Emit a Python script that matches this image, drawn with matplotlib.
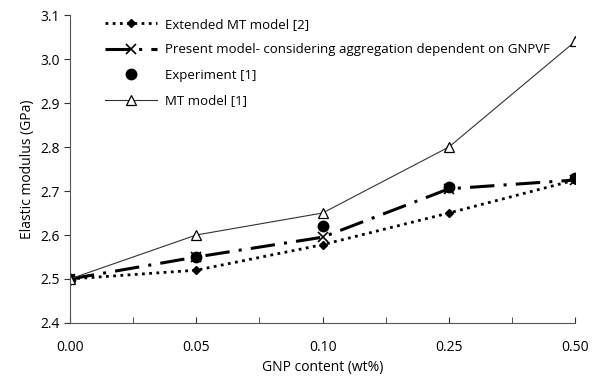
import matplotlib.pyplot as plt

# GNP content categories (equally spaced on the chart)
gnp_labels = ["0.00", "0.05", "0.10", "0.25", "0.50"]

extended_mt = [2.50, 2.52, 2.578, 2.65, 2.725]
present_model = [2.50, 2.55, 2.595, 2.705, 2.725]
experiment = [2.50, 2.55, 2.62, 2.71, 2.73]
mt_model = [2.50, 2.60, 2.65, 2.80, 3.04]

plt.rcParams['font.family'] = ['Open Sans', 'DejaVu Sans']

x = list(range(len(gnp_labels)))

fig = plt.figure(figsize=(5.93, 3.76), dpi=100)
ax = fig.add_axes([0.118, 0.141, 0.852, 0.819])

ax.plot(x, extended_mt, linestyle=(0, (1, 1.6)), color='black', linewidth=2,
        marker='D', markersize=4, label='Extended MT model [2]')
ax.plot(x, present_model, linestyle=(0, (8, 3, 1, 3)), color='black', linewidth=2.2,
        marker='x', markersize=7, markeredgewidth=1.2,
        label='Present model- considering aggregation dependent on GNPVF')
ax.plot(x, experiment, linestyle='none', color='black',
        marker='o', markersize=7.5, label='Experiment [1]')
ax.plot(x, mt_model, linestyle='-', color='#333333', linewidth=0.8,
        marker='^', markersize=6.5, markerfacecolor='white', markeredgecolor='black',
        markeredgewidth=0.9, label='MT model [1]')

ax.set_xlim(0, 4)
ax.set_ylim(2.4, 3.1)
ax.set_xticks(x)
ax.set_xticklabels(gnp_labels)
ax.set_xticks([0.5, 1.5, 2.5, 3.5], minor=True)
ax.set_yticks([2.4, 2.5, 2.6, 2.7, 2.8, 2.9, 3.0, 3.1])
ax.set_yticklabels(["2.4", "2.5", "2.6", "2.7", "2.8", "2.9", "3.0", "3.1"])
ax.tick_params(axis='x', which='both', direction='in', length=4, colors='#333333',
               labelsize=10, pad=12)
ax.tick_params(axis='y', direction='out', length=4, colors='#333333', labelsize=10)
for lbl in ax.get_xticklabels() + ax.get_yticklabels():
    lbl.set_color('black')

for s in ['top', 'right']:
    ax.spines[s].set_visible(False)
for s in ['left', 'bottom']:
    ax.spines[s].set_color('#555555')

ax.set_xlabel("GNP content (wt%)", fontsize=10)
ax.set_ylabel("Elastic modulus (GPa)", fontsize=10)

ax.legend(loc='upper left', bbox_to_anchor=(0.045, 1.03), frameon=False, fontsize=9.5,
          handlelength=4, labelspacing=0.95, handletextpad=0.6)

fig.savefig("out.png", dpi=100)
